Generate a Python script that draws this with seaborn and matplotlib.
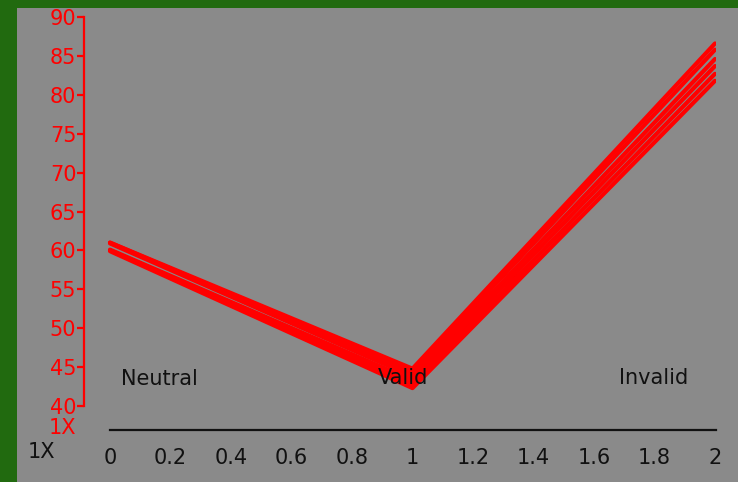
#!/usr/bin/env python3
# -*- coding: utf-8 -*-
# Red fan of lines over three conditions, gray panel on green frame

import matplotlib

matplotlib.use("Agg")
import matplotlib.pyplot as plt  # noqa: E402
import matplotlib.patches as mpatches  # noqa: E402
import pandas as pd  # noqa: E402
import seaborn as sns  # noqa: E402

# ---- data ----
x_positions = [0, 1, 2]
series_names = ["s1", "s2", "s3", "s4", "s5", "s6"]
series_values = [
    [61.0, 44.8, 86.6],
    [61.0, 44.3, 85.8],
    [60.9, 43.8, 84.6],
    [60.1, 43.3, 83.7],
    [60.0, 42.8, 82.7],
    [59.9, 42.3, 81.8],
]
condition_labels = ["Neutral", "Valid", "Invalid"]
label_x = [0.162, 0.969, 1.798]
label_y = [43.5, 43.6, 43.6]
y_ticks = [40, 45, 50, 55, 60, 65, 70, 75, 80, 85, 90]
x_ticks = [0, 0.2, 0.4, 0.6, 0.8, 1, 1.2, 1.4, 1.6, 1.8, 2]
x_tick_labels = ["0", "0.2", "0.4", "0.6", "0.8", "1", "1.2", "1.4", "1.6", "1.8", "2"]

GREEN = "#216a0f"
GRAY = "#8a8a8a"
RED = "#ff0000"
DARK = "#111111"

rows = []
for name, vals in zip(series_names, series_values):
    for x, v in zip(x_positions, vals):
        rows.append({"series": name, "x": x, "value": v})
df = pd.DataFrame(rows)

sns.set_style("white")
plt.rcParams["font.family"] = ["DejaVu Sans"]

W, H = 738, 482
fig = plt.figure(figsize=(W / 100, H / 100), dpi=100, facecolor=GREEN)
panel = mpatches.Rectangle((17 / W, 0), 1 - 17 / W, 1 - 8 / H,
                           transform=fig.transFigure, facecolor=GRAY,
                           edgecolor="none", zorder=-10)
fig.add_artist(panel)

left_px, right_px, top_px, bottom_px = 84, 716, 17, 430
ax = fig.add_axes([left_px / W, 1 - bottom_px / H,
                   (right_px - left_px) / W, (bottom_px - top_px) / H])
ax.set_facecolor("none")
ax.set_zorder(1)

sns.lineplot(data=df, x="x", y="value", hue="series", units="series",
             estimator=None, palette=[RED] * len(series_names),
             linewidth=3.0, legend=False, ax=ax, zorder=2)

px_per_x = 302.5
px_per_y = 7.78
ax.set_xlim(-(110 - left_px) / px_per_x, (right_px - 110) / px_per_x)
ax.set_ylim(90 - (bottom_px - top_px) / px_per_y, 90)

for t, xx, yy in zip(condition_labels, label_x, label_y):
    ax.text(xx, yy, t, ha="center", va="center", fontsize=15,
            color=DARK, zorder=5)

# spines
for side in ["top", "right"]:
    ax.spines[side].set_visible(False)
ax.spines["left"].set_color(RED)
ax.spines["left"].set_linewidth(1.6)
ax.spines["left"].set_bounds(40, 90)
ax.spines["bottom"].set_color(DARK)
ax.spines["bottom"].set_linewidth(1.6)
ax.spines["bottom"].set_bounds(0, (right_px - 110) / px_per_x)

ax.set_yticks(y_ticks)
ax.set_yticklabels([str(v) for v in y_ticks])
ax.set_xticks(x_ticks)
ax.set_xticklabels(x_tick_labels)
ax.tick_params(axis="y", colors=RED, labelcolor=RED, length=5, width=1.6,
               pad=0.5, labelsize=15, left=True)
ax.tick_params(axis="x", length=0, pad=13, labelsize=15, labelcolor=DARK)
ax.set_xlabel("")
ax.set_ylabel("")
ax.grid(False)

fig.text(62 / W, 1 - 428 / H, "1X", color=RED, fontsize=15,
         ha="center", va="center", zorder=3)
fig.text(41 / W, 1 - 452 / H, "1X", color=DARK, fontsize=15,
         ha="center", va="center", zorder=3)

fig.savefig("out.png", dpi=100, facecolor=GREEN)
plt.close(fig)
